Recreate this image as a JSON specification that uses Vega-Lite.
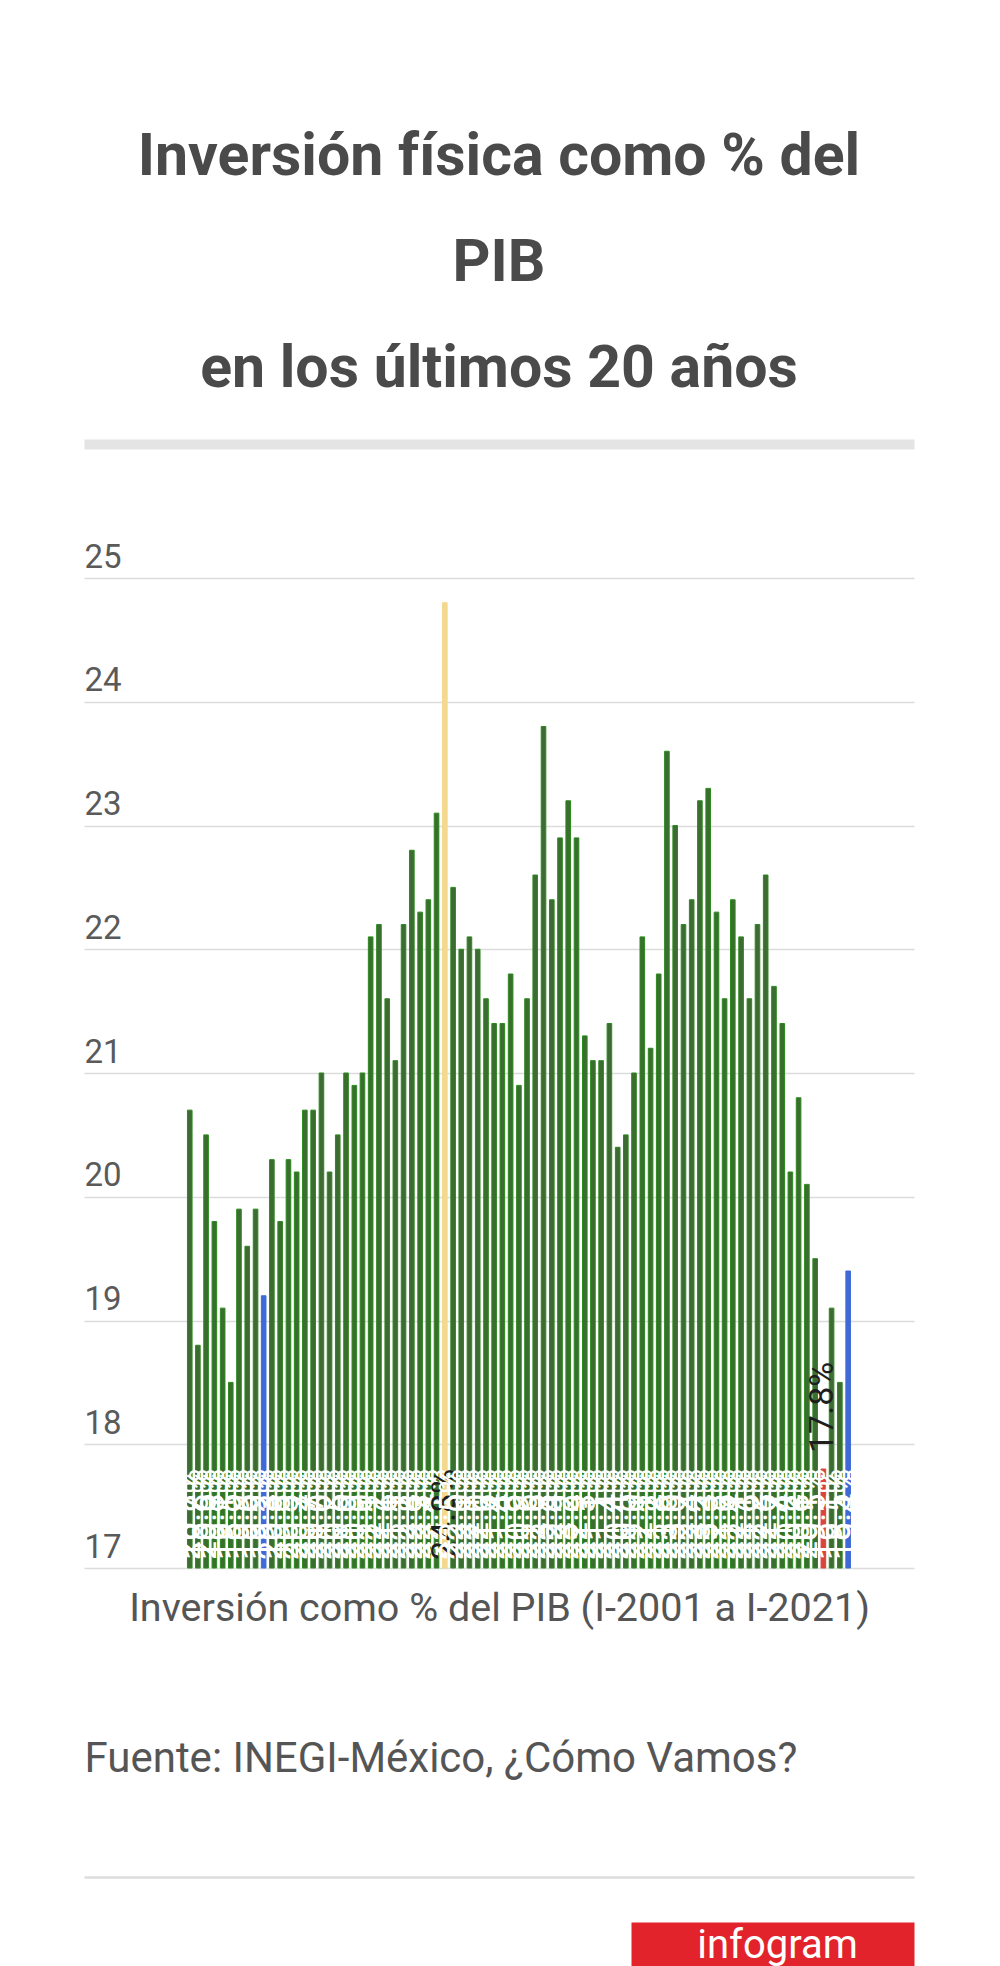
{
  "$schema": "https://vega.github.io/schema/vega-lite/v6.json",
  "width": 830,
  "height": 990,
  "autosize": {"type": "none"},
  "padding": {"left": 84, "top": 578, "right": 86, "bottom": 398},
  "background": "white",
  "config": {"font": "Roboto", "view": {"stroke": null}},
  "title": {
    "text": ["Inversión física como % del", "PIB", "en los últimos 20 años"],
    "fontSize": 59,
    "fontWeight": "bold",
    "color": "#4a4a4a",
    "lineHeight": 106,
    "anchor": "middle",
    "frame": "group",
    "baseline": "alphabetic",
    "offset": -2
  },
  "datasets": {
    "pib": [
      {"fecha": "2001-01-01", "t": "I-2001", "v": 20.7, "tipo": "Resto"},
      {"fecha": "2001-04-01", "t": "II-2001", "v": 18.8, "tipo": "Resto"},
      {"fecha": "2001-07-01", "t": "III-2001", "v": 20.5, "tipo": "Resto"},
      {"fecha": "2001-10-01", "t": "IV-2001", "v": 19.8, "tipo": "Resto"},
      {"fecha": "2002-01-01", "t": "I-2002", "v": 19.1, "tipo": "Resto"},
      {"fecha": "2002-04-01", "t": "II-2002", "v": 18.5, "tipo": "Resto"},
      {"fecha": "2002-07-01", "t": "III-2002", "v": 19.9, "tipo": "Resto"},
      {"fecha": "2002-10-01", "t": "IV-2002", "v": 19.6, "tipo": "Resto"},
      {"fecha": "2003-01-01", "t": "I-2003", "v": 19.9, "tipo": "Resto"},
      {"fecha": "2003-04-01", "t": "II-2003", "v": 19.2, "tipo": "Comparación"},
      {"fecha": "2003-07-01", "t": "III-2003", "v": 20.3, "tipo": "Resto"},
      {"fecha": "2003-10-01", "t": "IV-2003", "v": 19.8, "tipo": "Resto"},
      {"fecha": "2004-01-01", "t": "I-2004", "v": 20.3, "tipo": "Resto"},
      {"fecha": "2004-04-01", "t": "II-2004", "v": 20.2, "tipo": "Resto"},
      {"fecha": "2004-07-01", "t": "III-2004", "v": 20.7, "tipo": "Resto"},
      {"fecha": "2004-10-01", "t": "IV-2004", "v": 20.7, "tipo": "Resto"},
      {"fecha": "2005-01-01", "t": "I-2005", "v": 21.0, "tipo": "Resto"},
      {"fecha": "2005-04-01", "t": "II-2005", "v": 20.2, "tipo": "Resto"},
      {"fecha": "2005-07-01", "t": "III-2005", "v": 20.5, "tipo": "Resto"},
      {"fecha": "2005-10-01", "t": "IV-2005", "v": 21.0, "tipo": "Resto"},
      {"fecha": "2006-01-01", "t": "I-2006", "v": 20.9, "tipo": "Resto"},
      {"fecha": "2006-04-01", "t": "II-2006", "v": 21.0, "tipo": "Resto"},
      {"fecha": "2006-07-01", "t": "III-2006", "v": 22.1, "tipo": "Resto"},
      {"fecha": "2006-10-01", "t": "IV-2006", "v": 22.2, "tipo": "Resto"},
      {"fecha": "2007-01-01", "t": "I-2007", "v": 21.6, "tipo": "Resto"},
      {"fecha": "2007-04-01", "t": "II-2007", "v": 21.1, "tipo": "Resto"},
      {"fecha": "2007-07-01", "t": "III-2007", "v": 22.2, "tipo": "Resto"},
      {"fecha": "2007-10-01", "t": "IV-2007", "v": 22.8, "tipo": "Resto"},
      {"fecha": "2008-01-01", "t": "I-2008", "v": 22.3, "tipo": "Resto"},
      {"fecha": "2008-04-01", "t": "II-2008", "v": 22.4, "tipo": "Resto"},
      {"fecha": "2008-07-01", "t": "III-2008", "v": 23.1, "tipo": "Resto"},
      {"fecha": "2008-10-01", "t": "IV-2008", "v": 24.8, "tipo": "Máximo"},
      {"fecha": "2009-01-01", "t": "I-2009", "v": 22.5, "tipo": "Resto"},
      {"fecha": "2009-04-01", "t": "II-2009", "v": 22.0, "tipo": "Resto"},
      {"fecha": "2009-07-01", "t": "III-2009", "v": 22.1, "tipo": "Resto"},
      {"fecha": "2009-10-01", "t": "IV-2009", "v": 22.0, "tipo": "Resto"},
      {"fecha": "2010-01-01", "t": "I-2010", "v": 21.6, "tipo": "Resto"},
      {"fecha": "2010-04-01", "t": "II-2010", "v": 21.4, "tipo": "Resto"},
      {"fecha": "2010-07-01", "t": "III-2010", "v": 21.4, "tipo": "Resto"},
      {"fecha": "2010-10-01", "t": "IV-2010", "v": 21.8, "tipo": "Resto"},
      {"fecha": "2011-01-01", "t": "I-2011", "v": 20.9, "tipo": "Resto"},
      {"fecha": "2011-04-01", "t": "II-2011", "v": 21.6, "tipo": "Resto"},
      {"fecha": "2011-07-01", "t": "III-2011", "v": 22.6, "tipo": "Resto"},
      {"fecha": "2011-10-01", "t": "IV-2011", "v": 23.8, "tipo": "Resto"},
      {"fecha": "2012-01-01", "t": "I-2012", "v": 22.4, "tipo": "Resto"},
      {"fecha": "2012-04-01", "t": "II-2012", "v": 22.9, "tipo": "Resto"},
      {"fecha": "2012-07-01", "t": "III-2012", "v": 23.2, "tipo": "Resto"},
      {"fecha": "2012-10-01", "t": "IV-2012", "v": 22.9, "tipo": "Resto"},
      {"fecha": "2013-01-01", "t": "I-2013", "v": 21.3, "tipo": "Resto"},
      {"fecha": "2013-04-01", "t": "II-2013", "v": 21.1, "tipo": "Resto"},
      {"fecha": "2013-07-01", "t": "III-2013", "v": 21.1, "tipo": "Resto"},
      {"fecha": "2013-10-01", "t": "IV-2013", "v": 21.4, "tipo": "Resto"},
      {"fecha": "2014-01-01", "t": "I-2014", "v": 20.4, "tipo": "Resto"},
      {"fecha": "2014-04-01", "t": "II-2014", "v": 20.5, "tipo": "Resto"},
      {"fecha": "2014-07-01", "t": "III-2014", "v": 21.0, "tipo": "Resto"},
      {"fecha": "2014-10-01", "t": "IV-2014", "v": 22.1, "tipo": "Resto"},
      {"fecha": "2015-01-01", "t": "I-2015", "v": 21.2, "tipo": "Resto"},
      {"fecha": "2015-04-01", "t": "II-2015", "v": 21.8, "tipo": "Resto"},
      {"fecha": "2015-07-01", "t": "III-2015", "v": 23.6, "tipo": "Resto"},
      {"fecha": "2015-10-01", "t": "IV-2015", "v": 23.0, "tipo": "Resto"},
      {"fecha": "2016-01-01", "t": "I-2016", "v": 22.2, "tipo": "Resto"},
      {"fecha": "2016-04-01", "t": "II-2016", "v": 22.4, "tipo": "Resto"},
      {"fecha": "2016-07-01", "t": "III-2016", "v": 23.2, "tipo": "Resto"},
      {"fecha": "2016-10-01", "t": "IV-2016", "v": 23.3, "tipo": "Resto"},
      {"fecha": "2017-01-01", "t": "I-2017", "v": 22.3, "tipo": "Resto"},
      {"fecha": "2017-04-01", "t": "II-2017", "v": 21.6, "tipo": "Resto"},
      {"fecha": "2017-07-01", "t": "III-2017", "v": 22.4, "tipo": "Resto"},
      {"fecha": "2017-10-01", "t": "IV-2017", "v": 22.1, "tipo": "Resto"},
      {"fecha": "2018-01-01", "t": "I-2018", "v": 21.6, "tipo": "Resto"},
      {"fecha": "2018-04-01", "t": "II-2018", "v": 22.2, "tipo": "Resto"},
      {"fecha": "2018-07-01", "t": "III-2018", "v": 22.6, "tipo": "Resto"},
      {"fecha": "2018-10-01", "t": "IV-2018", "v": 21.7, "tipo": "Resto"},
      {"fecha": "2019-01-01", "t": "I-2019", "v": 21.4, "tipo": "Resto"},
      {"fecha": "2019-04-01", "t": "II-2019", "v": 20.2, "tipo": "Resto"},
      {"fecha": "2019-07-01", "t": "III-2019", "v": 20.8, "tipo": "Resto"},
      {"fecha": "2019-10-01", "t": "IV-2019", "v": 20.1, "tipo": "Resto"},
      {"fecha": "2020-01-01", "t": "I-2020", "v": 19.5, "tipo": "Resto"},
      {"fecha": "2020-04-01", "t": "II-2020", "v": 17.8, "tipo": "Mínimo"},
      {"fecha": "2020-07-01", "t": "III-2020", "v": 19.1, "tipo": "Resto"},
      {"fecha": "2020-10-01", "t": "IV-2020", "v": 18.5, "tipo": "Resto"},
      {"fecha": "2021-01-01", "t": "I-2021", "v": 19.4, "tipo": "Comparación"}
    ]
  },
  "resolve": {"scale": {"x": "independent"}},
  "layer": [
    {
      "data": {"name": "pib"},
      "resolve": {"axis": {"x": "independent"}},
      "layer": [
        {
          "mark": {"type": "bar", "width": 4.6, "strokeWidth": 1},
          "encoding": {
            "x": {
              "field": "fecha",
              "type": "temporal",
              "scale": {
                "type": "utc",
                "nice": false,
                "domain": [
                  {"year": 1997, "month": 12, "date": 10, "utc": true},
                  {"year": 2022, "month": 11, "date": 7, "utc": true}
                ]
              },
              "axis": {
                "orient": "bottom",
                "labels": false,
                "ticks": false,
                "domain": false,
                "grid": false,
                "title": "Inversión como % del PIB (I-2001 a I-2021)",
                "titleFontSize": 39.5,
                "titleFontWeight": "normal",
                "titleColor": "#555555",
                "titleY": 40,
                "titleBaseline": "middle"
              }
            },
            "y": {
              "field": "v",
              "type": "quantitative",
              "title": null,
              "scale": {"domain": [17, 25], "zero": false, "nice": false},
              "axis": {
                "values": [17, 18, 19, 20, 21, 22, 23, 24, 25],
                "format": "d",
                "grid": true,
                "gridColor": "#dcdcdc",
                "gridWidth": 1.5,
                "domain": false,
                "ticks": false,
                "tickSize": 0,
                "labelAlign": "left",
                "labelPadding": 0,
                "labelBaseline": "alphabetic",
                "labelOffset": -11,
                "labelFontSize": 33,
                "labelColor": "#5a5a5a"
              }
            },
            "y2": {"datum": 17},
            "color": {
              "field": "tipo",
              "type": "nominal",
              "legend": null,
              "scale": {
                "domain": ["Resto", "Comparación", "Máximo", "Mínimo"],
                "range": ["#3c6c32", "#3f6ad6", "#f3d88e", "#d8453b"]
              }
            },
            "stroke": {
              "field": "tipo",
              "type": "nominal",
              "legend": null,
              "scale": {
                "domain": ["Resto", "Comparación", "Máximo", "Mínimo"],
                "range": ["#2b8a1d", "#3f6ad6", "#f3d88e", "#d8453b"]
              }
            },
            "tooltip": [
              {"field": "t", "type": "nominal", "title": "Trimestre"},
              {"field": "v", "type": "quantitative", "title": "% del PIB"}
            ]
          }
        },
        {
          "mark": {
            "type": "text",
            "angle": 270,
            "align": "left",
            "baseline": "middle",
            "dx": 8,
            "fontSize": 34,
            "text": {"expr": "datum.v > 18 ? format(datum.v, '.1f') + '%' : ''"}
          },
          "encoding": {
            "x": {
              "field": "fecha",
              "type": "temporal",
              "axis": {
                "orient": "top",
                "offset": 134,
                "labels": false,
                "ticks": false,
                "grid": false,
                "title": null,
                "domainColor": "#e4e4e4",
                "domainWidth": 10
              }
            },
            "y": {"datum": 17, "type": "quantitative", "title": null},
            "color": {
              "condition": {"test": "datum.tipo === 'Máximo'", "value": "#1e1e1e"},
              "value": "white"
            }
          }
        },
        {
          "mark": {
            "type": "text",
            "angle": 270,
            "align": "left",
            "baseline": "middle",
            "dx": 16,
            "fontSize": 34,
            "color": "#1e1e1e",
            "text": {"expr": "datum.v <= 18 ? format(datum.v, '.1f') + '%' : ''"}
          },
          "encoding": {
            "x": {
              "field": "fecha",
              "type": "temporal",
              "axis": {
                "orient": "bottom",
                "offset": 309,
                "labels": false,
                "ticks": false,
                "grid": false,
                "domainColor": "#dddddd",
                "domainWidth": 2.5,
                "title": "Fuente: INEGI-México, ¿Cómo Vamos?",
                "titleAnchor": "start",
                "titleAlign": "left",
                "titleX": 0,
                "titleY": -119,
                "titleBaseline": "middle",
                "titleFontSize": 42,
                "titleFontWeight": "normal",
                "titleColor": "#555555"
              }
            },
            "y": {"field": "v", "type": "quantitative", "title": null}
          }
        }
      ]
    },
    {
      "data": {"values": [{"marca": "infogram"}]},
      "mark": {"type": "point", "opacity": 0},
      "encoding": {
        "x": {
          "field": "marca",
          "type": "nominal",
          "scale": {"range": [547, 830]},
          "axis": {
            "orient": "bottom",
            "offset": 379,
            "domainColor": "#e2232b",
            "domainWidth": 50,
            "ticks": false,
            "labels": false,
            "title": "infogram",
            "titleX": 693,
            "titleY": 10,
            "titleAlign": "center",
            "titleBaseline": "alphabetic",
            "titleFontSize": 40,
            "titleFontWeight": "normal",
            "titleColor": "white"
          }
        }
      }
    }
  ]
}
